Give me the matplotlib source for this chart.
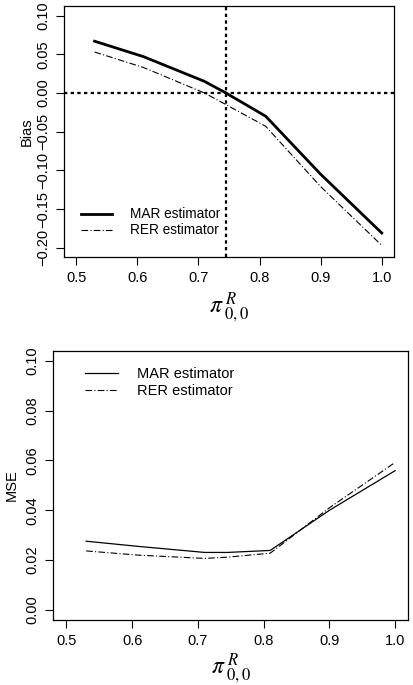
import numpy as np
import matplotlib
matplotlib.use("Agg")
import matplotlib.pyplot as plt

plt.rcParams['font.family'] = ['Liberation Sans', 'DejaVu Sans']
plt.rcParams['mathtext.fontset'] = 'stix'

# values
pi00 = [0.53, 0.61, 0.71, 0.745, 0.81, 0.90, 1.00]
bias_mar = [0.067, 0.047, 0.015, 0.0, -0.030, -0.105, -0.181]
bias_rer = [0.053, 0.033, 0.0, -0.015, -0.043, -0.121, -0.197]
mse_mar = [0.0276, 0.0255, 0.0231, 0.0231, 0.0239, 0.0400, 0.0559]
mse_rer = [0.0237, 0.0220, 0.0207, 0.0212, 0.0228, 0.0410, 0.0592]
xticks = [0.5, 0.6, 0.7, 0.8, 0.9, 1.0]
bias_ticks = [-0.20, -0.15, -0.10, -0.05, 0.00, 0.05, 0.10]
mse_ticks = [0.00, 0.02, 0.04, 0.06, 0.08, 0.10]
vline_x = 0.745

fig = plt.figure(figsize=(4.14, 6.85), dpi=100)
ax1 = fig.add_axes([0.1546, 0.6248, 0.7971, 0.3659])
ax2 = fig.add_axes([0.1288, 0.0949, 0.8574, 0.3931])


def r_style(ax, yticks):
    ax.set_xlim(0.48, 1.02)
    lo, hi = yticks[0], yticks[-1]
    pad = (hi - lo) * 0.04
    ax.set_ylim(lo - pad, hi + pad)
    ax.set_xticks(xticks)
    ax.set_xticklabels(["%.1f" % t for t in xticks])
    ax.set_yticks(yticks)
    ax.set_yticklabels([("%.2f" % t).replace('-', '\u2212') for t in yticks],
                       rotation=90, va='center')
    ax.tick_params(direction='out', length=6, width=0.8, labelsize=10.5, pad=4)
    for s in ax.spines.values():
        s.set_linewidth(0.9)


dotdash = (0, (6, 2, 1, 2))
dotted = (0, (1.5, 1.5))

ax1.plot(pi00, bias_mar, color='black', lw=2.0, label='MAR estimator')
ax1.plot(pi00, bias_rer, color='black', lw=0.8, ls=dotdash, label='RER estimator')
ax1.axhline(0, color='black', lw=1.6, ls=dotted)
ax1.axvline(vline_x, color='black', lw=1.6, ls=dotted)
r_style(ax1, bias_ticks)
ax1.set_ylabel('Bias', fontsize=10.5, labelpad=2)
ax1.set_xlabel(r'$\pi^{\;R}_{\;0,0}$', fontsize=17, labelpad=4)
ax1.legend(loc='center left', bbox_to_anchor=(0.05, 0.138), frameon=False,
           borderpad=0, borderaxespad=0, fontsize=9.8, handlelength=2.3,
           handletextpad=1.3, labelspacing=0.15)

ax2.plot(pi00, mse_mar, color='black', lw=0.9, label='MAR estimator')
ax2.plot(pi00, mse_rer, color='black', lw=0.8, ls=dotdash, label='RER estimator')
r_style(ax2, mse_ticks)
ax2.set_ylabel('MSE', fontsize=10.5, labelpad=5)
ax2.set_xlabel(r'$\pi^{\;R}_{\;0,0}$', fontsize=17, labelpad=3)
ax2.legend(loc='center left', bbox_to_anchor=(0.089, 0.882), frameon=False,
           borderpad=0, borderaxespad=0, fontsize=10.5, handlelength=2.3,
           handletextpad=1.3, labelspacing=0.25)

fig.savefig('out.png', dpi=100)
